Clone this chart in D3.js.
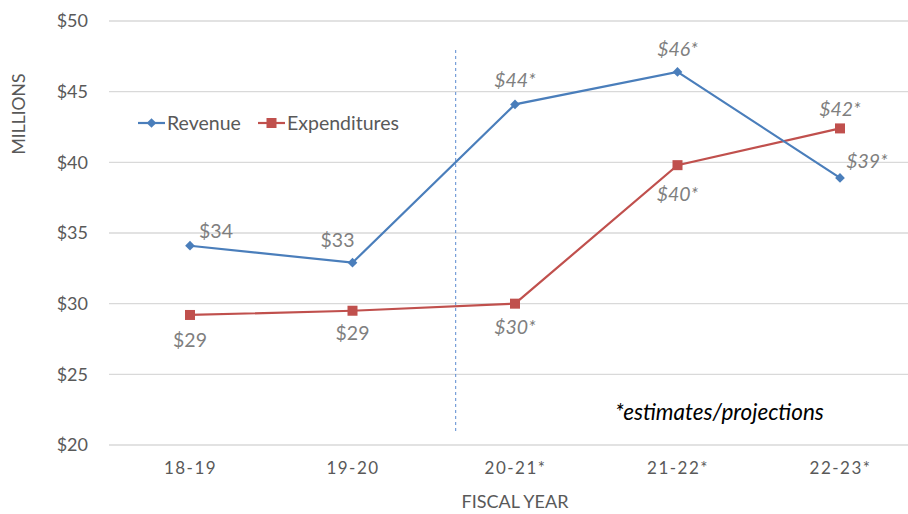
<!DOCTYPE html>
<html>
<head>
<meta charset="utf-8">
<script src="https://cdn.jsdelivr.net/npm/d3@7"></script>
<style>
  body { margin: 0; background: #fff; }
  text { font-family: Lato, "Open Sans", sans-serif; }
</style>
</head>
<body>
<svg id="chart" width="908" height="514"></svg>
<script>
// data
let years = ["18-19", "19-20", "20-21*", "21-22*", "22-23*"]
let revenue = [34.1, 32.9, 44.1, 46.4, 38.9]
let expenditures = [29.2, 29.5, 30.0, 39.8, 42.4]
let revenueLabels = ["$34", "$33", "$44*", "$46*", "$39*"]
let expLabels = ["$29", "$29", "$30*", "$40*", "$42*"]
let yTicks = [20, 25, 30, 35, 40, 45, 50]

let svg = d3.select("#chart")

let x = d3.scalePoint().domain(years).range([190, 840])
let y = d3.scaleLinear().domain([20, 50]).range([445, 21])

// gridlines
svg.append("g")
    .selectAll("line")
    .data(yTicks)
    .enter().append("line")
    .attr("x1", 109).attr("x2", 908)
    .attr("y1", d => y(d)).attr("y2", d => y(d))
    .attr("stroke", "#d9d9d9").attr("stroke-width", 1.3)

// y axis labels
let yAxis = svg.append("g")
    .attr("transform", "translate(88,0)")
    .call(d3.axisLeft(y).tickValues(yTicks).tickFormat(d => "$" + d).tickSize(0).tickPadding(0))
yAxis.select(".domain").remove()
yAxis.selectAll("text")
    .attr("font-family", "Lato, 'Open Sans', sans-serif")
    .attr("font-size", 18).attr("fill", "#595959")

// x axis labels
let xAxis = svg.append("g")
    .attr("transform", "translate(0,462)")
    .call(d3.axisBottom(x).tickSize(0).tickPadding(0))
xAxis.select(".domain").remove()
xAxis.selectAll("text")
    .attr("font-family", "Lato, 'Open Sans', sans-serif")
    .attr("font-size", 17).attr("fill", "#595959")
    .attr("letter-spacing", 1.5)

// axis titles
svg.append("text")
    .attr("transform", "translate(25,114) rotate(-90)")
    .attr("text-anchor", "middle")
    .attr("font-size", 17.5).attr("fill", "#595959")
    .text("MILLIONS")

svg.append("text")
    .attr("x", 515).attr("y", 508)
    .attr("text-anchor", "middle")
    .attr("font-size", 18).attr("fill", "#595959")
    .text("FISCAL YEAR")

// dashed divider between actuals and estimates
let divX = x("19-20") + x.step() * 0.635
svg.append("line")
    .attr("x1", divX).attr("x2", divX)
    .attr("y1", 50).attr("y2", 432)
    .attr("stroke", "#5b8bd0").attr("stroke-width", 1)
    .attr("stroke-dasharray", "3,3")

let line = d3.line().x((d, i) => x(years[i])).y(d => y(d))

// expenditures
svg.append("path")
    .datum(expenditures)
    .attr("d", line)
    .attr("fill", "none").attr("stroke", "#c0504d").attr("stroke-width", 2.2)
svg.selectAll(".sq")
    .data(expenditures)
    .enter().append("rect")
    .attr("class", "sq")
    .attr("x", (d, i) => x(years[i]) - 5)
    .attr("y", d => y(d) - 5)
    .attr("width", 10).attr("height", 10)
    .attr("fill", "#c0504d")

// revenue
svg.append("path")
    .datum(revenue)
    .attr("d", line)
    .attr("fill", "none").attr("stroke", "#4a7ebb").attr("stroke-width", 2.2)
let diamond = d3.symbol().type(d3.symbolDiamond2).size(60)
svg.selectAll(".dm")
    .data(revenue)
    .enter().append("path")
    .attr("class", "dm")
    .attr("d", diamond)
    .attr("transform", (d, i) => "translate(" + x(years[i]) + "," + y(d) + ")")
    .attr("fill", "#4a7ebb")

// data labels: offsets relative to the point
let revOffsets = [[26, -8], [-15, -16], [0, -17], [0, -16], [27, -10]]
let expOffsets = [[0, 32], [0, 29], [0, 30], [0, 36], [0, -12]]

svg.selectAll(".rlab")
    .data(revenue)
    .enter().append("text")
    .attr("class", "rlab")
    .attr("x", (d, i) => x(years[i]) + revOffsets[i][0])
    .attr("y", (d, i) => y(d) + revOffsets[i][1])
    .attr("text-anchor", "middle")
    .attr("font-size", 19.5).attr("fill", "#7f7f7f")
    .attr("font-style", (d, i) => i > 1 ? "italic" : "normal")
    .text((d, i) => revenueLabels[i])

svg.selectAll(".elab")
    .data(expenditures)
    .enter().append("text")
    .attr("class", "elab")
    .attr("x", (d, i) => x(years[i]) + expOffsets[i][0])
    .attr("y", (d, i) => y(d) + expOffsets[i][1])
    .attr("text-anchor", "middle")
    .attr("font-size", 19.5).attr("fill", "#7f7f7f")
    .attr("font-style", (d, i) => i > 1 ? "italic" : "normal")
    .text((d, i) => expLabels[i])

// legend
let legend = svg.append("g").attr("transform", "translate(138,123)")
legend.append("line").attr("x1", 0).attr("x2", 27).attr("stroke", "#4a7ebb").attr("stroke-width", 2.2)
legend.append("path").attr("d", diamond).attr("transform", "translate(13.5,0)").attr("fill", "#4a7ebb")
legend.append("text").attr("x", 29).attr("y", 7).attr("font-size", 19.5).attr("fill", "#595959").text("Revenue")
legend.append("line").attr("x1", 120).attr("x2", 147).attr("stroke", "#c0504d").attr("stroke-width", 2.2)
legend.append("rect").attr("x", 128.5).attr("y", -5).attr("width", 10).attr("height", 10).attr("fill", "#c0504d")
legend.append("text").attr("x", 149).attr("y", 7).attr("font-size", 19.5).attr("fill", "#595959").text("Expenditures")

// note
svg.append("text")
    .attr("x", 615).attr("y", 420)
    .attr("font-size", 22.5).attr("font-style", "italic").attr("fill", "#000")
    .text("*estimates/projections")
</script>
</body>
</html>
